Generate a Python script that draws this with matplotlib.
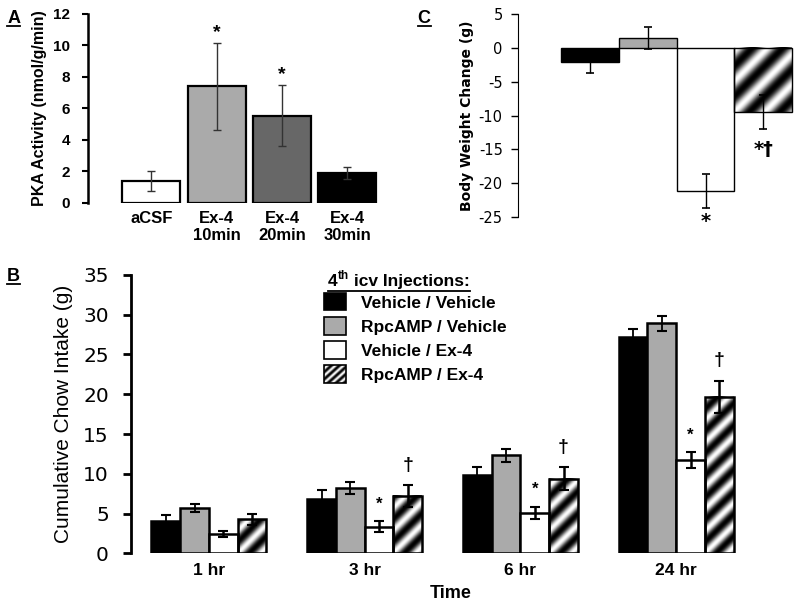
import numpy as np
import matplotlib.pyplot as plt
from matplotlib.patches import Patch, Rectangle
from matplotlib.lines import Line2D
from matplotlib.legend_handler import HandlerBase
from matplotlib.image import BboxImage
from matplotlib.transforms import Bbox, TransformedBbox

plt.rcParams['font.family'] = ['Liberation Sans', 'DejaVu Sans']
plt.rcParams['axes.unicode_minus'] = False

# panel A - PKA activity
pka_labels = ['aCSF', 'Ex-4\n10min', 'Ex-4\n20min', 'Ex-4\n30min']
pka_mean = [1.4, 7.4, 5.55, 1.9]
pka_err = [0.65, 2.75, 1.95, 0.4]
pka_colors = ['white', '#aaaaaa', '#676767', 'black']
pka_marks = ['', '*', '*', '']

# panel C - body weight change
bw_mean = [-2.05, 1.5, -21.1, -9.5]
bw_err = [1.7, 1.65, 2.5, 2.5]
bw_marks = ['', '', '*', '*\u2020']

# panel B - cumulative chow intake
times = ['1 hr', '3 hr', '6 hr', '24 hr']
treatments = ['Vehicle / Vehicle', 'RpcAMP / Vehicle', 'Vehicle / Ex-4', 'RpcAMP / Ex-4']
veh_veh = [4.1, 6.8, 9.85, 27.2]
veh_veh_err = [0.75, 1.15, 1.05, 1.05]
rp_veh = [5.7, 8.2, 12.3, 28.9]
rp_veh_err = [0.55, 0.75, 0.8, 0.95]
veh_ex4 = [2.45, 3.35, 5.05, 11.75]
veh_ex4_err = [0.35, 0.65, 0.8, 1.0]
rp_ex4 = [4.25, 7.2, 9.4, 19.7]
rp_ex4_err = [0.7, 1.4, 1.45, 2.0]
veh_ex4_marks = ['', '*', '*', '*']
rp_ex4_marks = ['', '\u2020', '\u2020', '\u2020']

fill_colors = ['black', '#aaaaaa', 'white', None]


def stripes(nx, ny, period, power=1.2):
    xx, yy = np.meshgrid(np.arange(nx), np.arange(ny))
    return ((1 + np.cos(2 * np.pi * (xx - yy) / period)) / 2) ** power


def stripe_fill(ax, bar, period):
    x0, x1 = sorted([bar.get_x(), bar.get_x() + bar.get_width()])
    y0, y1 = sorted([bar.get_y(), bar.get_y() + bar.get_height()])
    (px0, py0), (px1, py1) = ax.transData.transform([(x0, y0), (x1, y1)])
    v = stripes(max(int(px1 - px0), 2), max(int(py1 - py0), 2), period)
    ax.imshow(v, cmap='gray', vmin=0, vmax=1, extent=(x0, x1, y0, y1),
              origin='lower', aspect='auto', interpolation='bilinear', zorder=1)


class StripeHandler(HandlerBase):
    def create_artists(self, legend, orig_handle, xdescent, ydescent, width, height,
                       fontsize, trans):
        bb = TransformedBbox(Bbox.from_bounds(-xdescent, -ydescent, width, height), trans)
        img = BboxImage(bb, cmap='gray', interpolation='bilinear', origin='lower')
        img.set_data(stripes(22, 20, 8))
        img.set_clim(0, 1)
        rect = Rectangle((-xdescent, -ydescent), width, height, facecolor='none',
                         edgecolor='black', lw=1.2, transform=trans)
        return [img, rect]


def text_bbox(fig, txt):
    r = fig.canvas.get_renderer()
    return txt.get_window_extent(r).transformed(fig.transFigure.inverted())


def underline(fig, x0, x1, y, lw=1.3):
    fig.add_artist(Line2D([x0, x1], [y, y], color='black', lw=lw, transform=fig.transFigure))


fig = plt.figure(figsize=(8, 6.07), dpi=100)

# ---------------- A ----------------
axA = fig.add_axes([0.11, 0.6656, 0.365, 0.3114])
xa = np.arange(len(pka_mean))
axA.bar(xa, pka_mean, width=0.89, color=pka_colors, edgecolor='black', lw=1.6, zorder=2)
axA.errorbar(xa, pka_mean, yerr=pka_err, fmt='none', ecolor='#333333', elinewidth=1,
             capsize=3, capthick=1, zorder=3)
for x, m, e, s in zip(xa, pka_mean, pka_err, pka_marks):
    if s:
        axA.annotate(s, (x, m + e), xytext=(0, 4), textcoords='offset points',
                     ha='center', va='baseline', fontsize=14, fontweight='bold')
axA.set_xlim(-0.97, 3.5)
axA.set_ylim(0, 12)
axA.set_yticks(np.arange(0, 13, 2))
axA.set_xticks(xa)
axA.set_xticklabels(pka_labels, fontsize=12, fontweight='bold', linespacing=1.15)
axA.tick_params(axis='x', length=0, pad=6)
axA.tick_params(axis='y', length=4, width=1.5, pad=9, labelsize=11)
for t in axA.get_yticklabels():
    t.set_fontweight('bold')
for sp in ['top', 'right', 'bottom']:
    axA.spines[sp].set_visible(False)
axA.spines['left'].set_linewidth(1.8)
axA.set_ylabel('PKA Activity (nmol/g/min)', fontsize=11.5, fontweight='bold', labelpad=4)

# ---------------- C ----------------
axC = fig.add_axes([0.6475, 0.6425, 0.3465, 0.3344])
xc = np.arange(len(bw_mean))
axC.set_xlim(-1.245, 3.55)
axC.set_ylim(-25, 5)
barsC = axC.bar(xc, bw_mean, width=1.0, color=fill_colors[:3] + ['none'],
                edgecolor='black', lw=1, zorder=2)
stripe_fill(axC, barsC[3], 30)
axC.errorbar(xc, bw_mean, yerr=bw_err, fmt='none', ecolor='black', elinewidth=1,
             capsize=3, capthick=1.2, zorder=3)
for x, m, e, s in zip(xc, bw_mean, bw_err, bw_marks):
    if s:
        axC.annotate(s, (x, m - e), xytext=(0, -3 if len(s) == 1 else -8),
                     textcoords='offset points', ha='center', va='top', fontsize=14,
                     fontweight='bold', family='DejaVu Sans', annotation_clip=False)
axC.set_xlim(-1.245, 3.55)
axC.set_ylim(-25, 5)
axC.set_yticks(np.arange(-25, 6, 5))
axC.set_xticks([])
axC.tick_params(axis='y', length=5, width=1, pad=6, labelsize=10.5)
for t in axC.get_yticklabels():
    t.set_family('DejaVu Sans')
for sp in ['top', 'right', 'bottom']:
    axC.spines[sp].set_visible(False)
axC.set_ylabel('Body Weight Change (g)', fontsize=10, fontweight='bold',
               family='DejaVu Sans', labelpad=3)

# ---------------- B ----------------
axB = fig.add_axes([0.1638, 0.0885, 0.79875, 0.4585])
xb = np.arange(len(times))
w = 0.1847
series = [(veh_veh, veh_veh_err), (rp_veh, rp_veh_err), (veh_ex4, veh_ex4_err), (rp_ex4, rp_ex4_err)]
axB.set_xlim(-0.5, 3.603)
axB.set_ylim(0, 35)
handles = []
for i, ((vals, errs), col, name) in enumerate(zip(series, fill_colors, treatments)):
    pos = xb + (i - 1.5) * w
    bars = axB.bar(pos, vals, width=w, color=col if col else 'none',
                   edgecolor='black', lw=1.8, zorder=2)
    if col is None:
        for b in bars:
            stripe_fill(axB, b, 22)
    axB.errorbar(pos, vals, yerr=errs, fmt='none', ecolor='black',
                 elinewidth=1.8 if i >= 2 else 1.3, capsize=3.5, capthick=1.5, zorder=3)
    if col is None:
        handles.append(Patch(facecolor='#999999', edgecolor='black', lw=1.2, label=name))
    else:
        handles.append(Patch(facecolor=col, edgecolor='black', lw=1.2, label=name))
for i, (marks, (vals, errs), off) in enumerate([(veh_ex4_marks, series[2], 9),
                                                (rp_ex4_marks, series[3], 11)]):
    pos = xb + (i + 0.5) * w
    for x, v, e, s in zip(pos, vals, errs, marks):
        if s:
            axB.annotate(s, (x, v + e), xytext=(0, off), textcoords='offset points',
                         ha='center', va='baseline', fontsize=12 if s == '*' else 14,
                         fontweight='bold')
axB.set_xlim(-0.5, 3.603)
axB.set_ylim(0, 35)
axB.set_yticks(np.arange(0, 36, 5))
axB.set_xticks(xb)
axB.set_xticklabels(times, fontsize=12.5, fontweight='bold')
axB.tick_params(axis='x', length=0, pad=7)
axB.tick_params(axis='y', length=6, width=2, pad=10, labelsize=14.5)
for t in axB.get_yticklabels():
    t.set_family('DejaVu Sans')
for sp in ['top', 'right', 'bottom']:
    axB.spines[sp].set_visible(False)
axB.spines['left'].set_linewidth(2)
axB.set_ylabel('Cumulative Chow Intake (g)', fontsize=15, labelpad=7)
axB.set_xlabel('Time', fontsize=13, fontweight='bold', labelpad=5)

leg = fig.legend(handles=handles, loc='upper left', bbox_to_anchor=(0.405, 0.517),
                 frameon=False, borderpad=0, borderaxespad=0, handlelength=1.26,
                 handleheight=1.15, handletextpad=0.85, labelspacing=0.38,
                 handler_map={handles[3]: StripeHandler()},
                 prop={'weight': 'bold', 'size': 12.5})

# legend title "4th icv Injections:" with superscript, underlined
t1 = fig.text(0.41, 0.529, '4', fontsize=12.5, fontweight='bold', va='baseline')
b1 = text_bbox(fig, t1)
t2 = fig.text(b1.x1, 0.529 + 0.011, 'th', fontsize=8.5, fontweight='bold', va='baseline')
b2 = text_bbox(fig, t2)
t3 = fig.text(b2.x1, 0.529, ' icv Injections:', fontsize=12.5, fontweight='bold', va='baseline')
b3 = text_bbox(fig, t3)
underline(fig, b1.x0, b3.x1, 0.529 - 5 / 607)

# panel letters
for x, y, s in [(0.009, 0.962, 'A'), (0.522, 0.962, 'C'), (0.009, 0.537, 'B')]:
    t = fig.text(x, y, s, fontsize=13, fontweight='bold', va='baseline')
    bb = text_bbox(fig, t)
    underline(fig, bb.x0, bb.x1, y - 3 / 607)

fig.savefig('out.png', dpi=100)
